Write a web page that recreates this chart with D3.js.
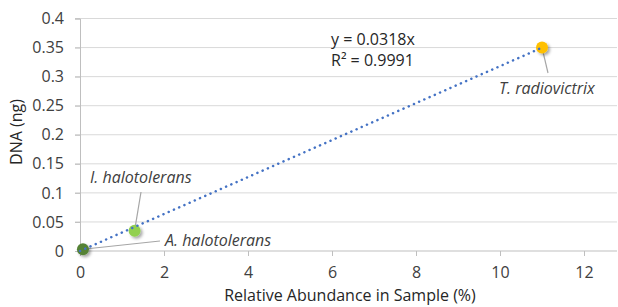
<!DOCTYPE html>
<html><head><meta charset="utf-8">
<script src="https://cdn.jsdelivr.net/npm/d3@7"></script>
<style>body{margin:0;background:#fff}text{font-family:"Open Sans",sans-serif}</style>
</head><body>
<svg id="c" width="618" height="307"></svg>
<script>
const species = ["A. halotolerans", "I. halotolerans", "T. radiovictrix"];
const abundance = [0.07, 1.3, 11.0];
const dna = [0.003, 0.035, 0.35];
const colors = ["#548235", "#92d050", "#ffc000"];
const xTicks = [0, 2, 4, 6, 8, 10, 12];
const yTicks = [0, 0.05, 0.1, 0.15, 0.2, 0.25, 0.3, 0.35, 0.4];
const slope = 0.0318;
const trendRange = [0, 11];
const eqLines = ["y = 0.0318x", "R² = 0.9991"];
// label layout (pixel): text x, text baseline y, leader end x, leader end y
const labelPos = [[165, 246, 160, 241], [90, 183, 141, 192], [499, 94, 548, 73]];

const FONT = "'Open Sans',sans-serif";
const FS = 16;
const svg = d3.select("#c");
const x = d3.scaleLinear().domain([0, 12.8]).range([80, 617.6]);
const y = d3.scaleLinear().domain([0, 0.4]).range([251, 18.5]);

const defs = svg.append("defs");
const f = defs.append("filter").attr("id","sh").attr("x","-50%").attr("y","-50%").attr("width","200%").attr("height","200%");
f.append("feDropShadow").attr("dx",2).attr("dy",2).attr("stdDeviation",1.5).attr("flood-color","#000").attr("flood-opacity",0.35);

// gridlines
svg.append("g").selectAll("line").data(yTicks.filter(d=>d>0)).join("line")
  .attr("x1", 75).attr("x2", 617).attr("y1", d=>y(d)).attr("y2", d=>y(d))
  .attr("stroke", "#d9d9d9").attr("stroke-width", 1);

// y axis
const ya = svg.append("g").attr("transform","translate(80,0)")
  .call(d3.axisLeft(y).tickValues(yTicks).tickFormat(d=>String(+d.toFixed(2))).tickSize(5).tickPadding(11));
ya.select(".domain").attr("stroke","#bfbfbf");
ya.selectAll(".tick line").attr("stroke","#bfbfbf");
ya.selectAll("text").attr("font-size",FS).attr("fill","#404040").attr("font-family",FONT);

// x axis
const xa = svg.append("g").attr("transform","translate(0,251)")
  .call(d3.axisBottom(x).tickValues(xTicks).tickSize(5).tickPadding(11));
xa.select(".domain").attr("stroke","#bfbfbf").attr("d","M80,0H617");
xa.selectAll(".tick line").attr("stroke","#bfbfbf");
xa.selectAll("text").attr("font-size",FS).attr("fill","#404040").attr("font-family",FONT);

// titles
svg.append("text").attr("x", 350).attr("y", 301).attr("text-anchor","middle")
  .attr("font-size",FS).attr("fill","#262626").text("Relative Abundance in Sample (%)");
svg.append("text").attr("transform","translate(22,132) rotate(-90)").attr("text-anchor","middle")
  .attr("font-size",FS).attr("fill","#262626").text("DNA (ng)");

// leader lines
svg.append("g").selectAll("line").data(labelPos).join("line")
  .attr("x1",(d,i)=>x(abundance[i])).attr("y1",(d,i)=>y(dna[i]))
  .attr("x2",d=>d[2]).attr("y2",d=>d[3])
  .attr("stroke","#a6a6a6").attr("stroke-width",1.2);

// markers
svg.append("g").selectAll("circle").data(species).join("circle")
  .attr("cx",(d,i)=>x(abundance[i])).attr("cy",(d,i)=>y(dna[i])).attr("r",6)
  .attr("fill",(d,i)=>colors[i]).attr("filter","url(#sh)");

// trendline
svg.append("line")
  .attr("x1", x(trendRange[0])).attr("y1", y(slope*trendRange[0]))
  .attr("x2", x(trendRange[1])).attr("y2", y(slope*trendRange[1]))
  .attr("stroke","#4472c4").attr("stroke-width",2.5).attr("stroke-dasharray","0.1 5.6").attr("stroke-linecap","round");

// labels
svg.append("g").selectAll("text").data(species).join("text")
  .attr("x",(d,i)=>labelPos[i][0]).attr("y",(d,i)=>labelPos[i][1])
  .attr("font-size",FS).attr("font-style","italic").attr("fill","#404040").text(d=>d);

// equation
svg.append("g").selectAll("text").data(eqLines).join("text")
  .attr("x",331).attr("y",(d,i)=>45+i*21).attr("font-size",FS).attr("fill","#262626").text(d=>d);
</script>
</body></html>
